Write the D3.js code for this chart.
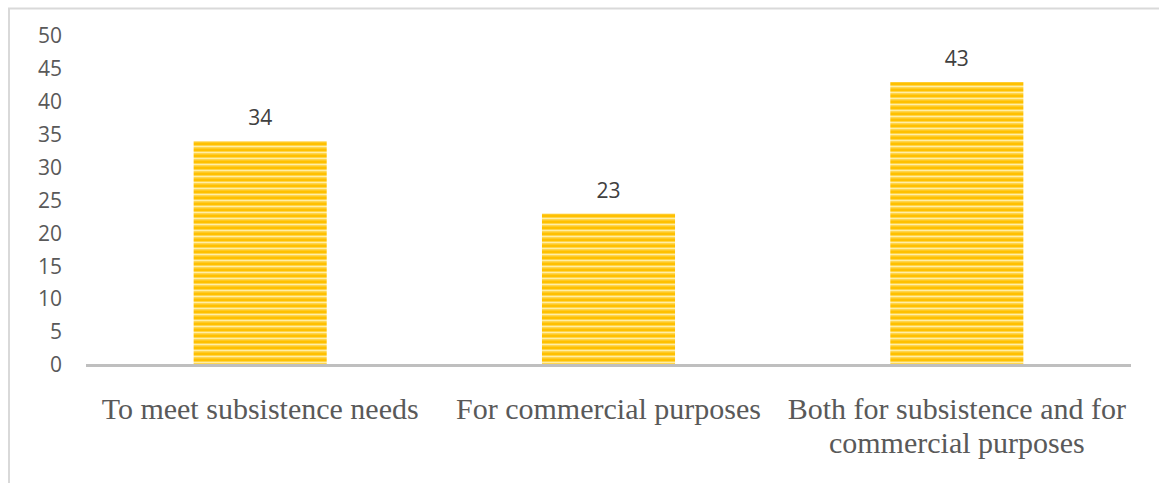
<!DOCTYPE html>
<html>
<head>
<meta charset="utf-8">
<script src="https://cdn.jsdelivr.net/npm/d3@7"></script>
<style>
  html, body { margin: 0; padding: 0; background: #fff; }
  svg { display: block; }
</style>
</head>
<body>
<svg id="chart" width="1159" height="483"></svg>
<script>
// Purposes of production and their shares (%)
const categories = [
  ["To meet subsistence needs"],
  ["For commercial purposes"],
  ["Both for subsistence and for", "commercial purposes"]
];
const values = [34, 23, 43];
const yTicks = [0, 5, 10, 15, 20, 25, 30, 35, 40, 45, 50];

const W = 1159, H = 483;
const margin = { left: 86, right: 28, top: 36, bottom: 118 };
const svg = d3.select("#chart");

// outer chart frame
svg.append("rect")
  .attr("x", 9).attr("y", 8.5)
  .attr("width", W + 10).attr("height", H + 10)
  .attr("fill", "#fff")
  .attr("stroke", "#d9d9d9").attr("stroke-width", 2);

// striped gold fill for the bars
const defs = svg.append("defs");
const pat = defs.append("pattern")
  .attr("id", "stripes")
  .attr("patternUnits", "userSpaceOnUse")
  .attr("width", 10).attr("height", 6);
pat.append("rect").attr("width", 10).attr("height", 6).attr("fill", "#ffc000");
pat.append("rect").attr("y", 1).attr("width", 10).attr("height", 1).attr("fill", "#ffd54a");
pat.append("rect").attr("y", 2).attr("width", 10).attr("height", 1.5).attr("fill", "#ffeea6");
pat.append("rect").attr("y", 3.5).attr("width", 10).attr("height", 1).attr("fill", "#ffd54a");

const x = d3.scaleBand()
  .domain(d3.range(values.length))
  .range([margin.left, W - margin.right])
  .paddingInner(0.618)
  .paddingOuter(0.309);

const y = d3.scaleLinear()
  .domain([0, 50])
  .range([H - margin.bottom, margin.top]);

// value axis labels (no axis line, no ticks)
const yAxis = d3.axisLeft(y).tickValues(yTicks).tickSize(0).tickPadding(0);
const yg = svg.append("g")
  .attr("transform", "translate(62,0)")
  .call(yAxis);
yg.select(".domain").remove();
yg.selectAll("text")
  .attr("font-family", "'Open Sans', sans-serif")
  .attr("font-size", 21)
  .attr("fill", "#595959");

// bars
svg.append("g").selectAll("rect")
  .data(values)
  .join("rect")
  .attr("x", (d, i) => x(i))
  .attr("y", d => y(d))
  .attr("width", x.bandwidth())
  .attr("height", d => y(0) - y(d))
  .attr("fill", "url(#stripes)");

// category baseline
svg.append("line")
  .attr("x1", margin.left).attr("x2", W - margin.right)
  .attr("y1", y(0) + 0.5).attr("y2", y(0) + 0.5)
  .attr("stroke", "#bfbfbf").attr("stroke-width", 3);

// data labels
svg.append("g").selectAll("text")
  .data(values)
  .join("text")
  .attr("x", (d, i) => x(i) + x.bandwidth() / 2)
  .attr("y", d => y(d) - 16)
  .attr("text-anchor", "middle")
  .attr("font-family", "'Open Sans', sans-serif")
  .attr("font-size", 21)
  .attr("fill", "#404040")
  .text(d => d);

// category labels
const cg = svg.append("g").selectAll("text")
  .data(categories)
  .join("text")
  .attr("x", (d, i) => x(i) + x.bandwidth() / 2)
  .attr("y", 419)
  .attr("text-anchor", "middle")
  .attr("font-family", "'Liberation Serif', 'Times New Roman', serif")
  .attr("font-size", 30)
  .attr("fill", "#595959");
cg.selectAll("tspan")
  .data(d => d)
  .join("tspan")
  .attr("x", function () { return d3.select(this.parentNode).attr("x"); })
  .attr("dy", (d, j) => j === 0 ? 0 : 34)
  .text(d => d);
</script>
</body>
</html>
